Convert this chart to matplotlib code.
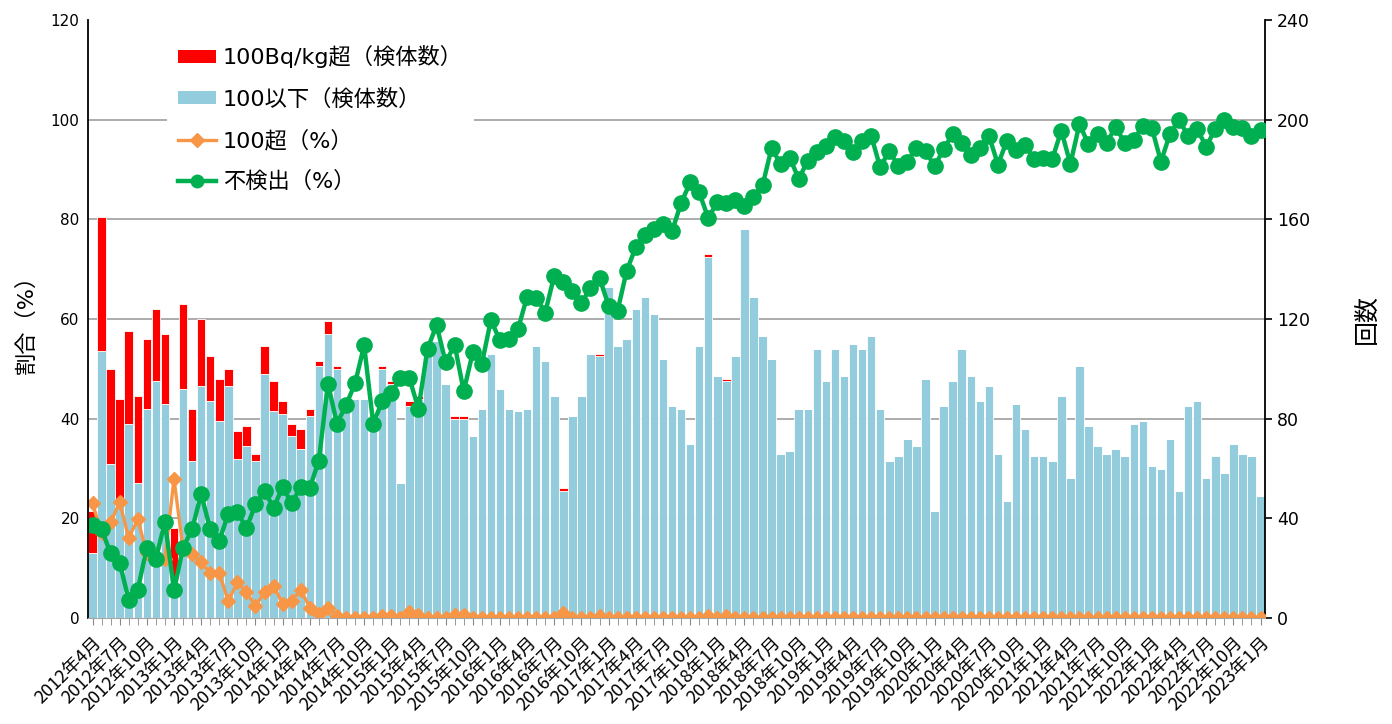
import matplotlib.pyplot as plt
import numpy as np
from matplotlib.patches import Patch
from matplotlib.lines import Line2D

# Verdana-like latin, CJK fallback
plt.rcParams['font.family'] = ['DejaVu Sans', 'Noto Sans CJK JP']

# months 2012年4月 .. 2023年1月
months = [f'{2012 + (i + 3) // 12}年{(i + 3) % 12 + 1}月' for i in range(130)]

# 検体数 (right axis)
below100 = [26, 107, 62, 47, 78, 54, 84, 95, 86, 15, 92, 63, 93, 87, 79, 93, 64, 69, 63, 98,
            83, 82, 73, 68, 81, 101, 114, 100, 84, 88, 88, 76, 100, 94, 54, 85, 88, 107, 111, 94,
            80, 80, 73, 84, 106, 92, 84, 83, 84, 109, 103, 89, 51, 81, 89, 106, 105, 133, 109, 112,
            124, 129, 122, 104, 85, 84, 70, 109, 145, 97, 95, 105, 156, 129, 113, 104, 66, 67, 84, 84,
            108, 95, 108, 97, 110, 108, 113, 84, 63, 65, 72, 69, 96, 43, 85, 95, 108, 97, 87, 93,
            66, 47, 86, 76, 65, 65, 63, 89, 56, 101, 77, 69, 66, 68, 65, 78, 79, 61, 60, 72,
            51, 85, 87, 56, 65, 58, 70, 66, 65, 49]
over100 = [17, 54, 38, 41, 37, 35, 28, 29, 28, 21, 34, 21, 27, 18, 17, 7, 11, 8, 3, 11,
           12, 5, 5, 8, 3, 2, 5, 1, 0, 0, 0, 0, 1, 1, 0, 2, 1, 0, 0, 0,
           1, 1, 0, 0, 0, 0, 0, 0, 0, 0, 0, 0, 1, 0, 0, 0, 1, 0, 0, 0,
           0, 0, 0, 0, 0, 0, 0, 0, 1, 0, 1, 0, 0, 0, 0, 0, 0, 0, 0, 0,
           0, 0, 0, 0, 0, 0, 0, 0, 0, 0, 0, 0, 0, 0, 0, 0, 0, 0, 0, 0,
           0, 0, 0, 0, 0, 0, 0, 0, 0, 0, 0, 0, 0, 0, 0, 0, 0, 0, 0, 0,
           0, 0, 0, 0, 0, 0, 0, 0, 0, 0]

# 割合 (left axis, %)
over_pct = [23.0, 17.0, 19.2, 23.2, 16.1, 19.8, 13.0, 12.5, 11.9, 27.9, 13.9, 12.9, 11.2, 9.0, 9.0, 3.4, 7.2, 5.2, 2.4, 5.2,
            6.5, 2.8, 3.5, 5.6, 2.1, 0.8, 2.1, 0.5, 0, 0, 0, 0, 0.5, 0.4, 0, 1.2, 0.6, 0, 0, 0,
            0.6, 0.6, 0, 0, 0, 0, 0, 0, 0, 0, 0, 0, 1.0, 0, 0, 0, 0.5, 0, 0, 0,
            0, 0, 0, 0, 0, 0, 0, 0, 0.4, 0, 0.5, 0, 0, 0, 0, 0, 0, 0, 0, 0,
            0, 0, 0, 0, 0, 0, 0, 0, 0, 0, 0, 0, 0, 0, 0, 0, 0, 0, 0, 0,
            0, 0, 0, 0, 0, 0, 0, 0, 0, 0, 0, 0, 0, 0, 0, 0, 0, 0, 0, 0,
            0, 0, 0, 0, 0, 0, 0, 0, 0, 0]
nd_pct = [18.7, 17.8, 13.0, 11.1, 3.6, 5.7, 14.1, 11.9, 19.3, 5.6, 14.1, 17.8, 24.9, 17.8, 15.5, 20.9, 21.3, 18.0, 22.8, 25.5,
          22.1, 26.3, 23.0, 26.3, 26.1, 31.6, 47.0, 39.0, 42.7, 47.1, 54.7, 39.0, 43.5, 45.1, 48.1, 48.1, 42.0, 54.0, 58.8, 51.3,
          54.8, 45.5, 53.3, 51.0, 59.8, 55.7, 56.0, 58.0, 64.5, 64.3, 61.3, 68.7, 67.4, 65.6, 63.2, 66.2, 68.2, 62.7, 61.7, 69.7,
          74.4, 76.9, 78.1, 79.1, 77.6, 83.2, 87.4, 85.4, 80.3, 83.4, 83.3, 83.9, 82.7, 84.5, 86.8, 94.3, 91.1, 92.4, 88.1, 91.8,
          93.6, 94.8, 96.5, 95.8, 93.6, 95.7, 96.8, 90.4, 93.8, 90.6, 91.6, 94.4, 93.8, 90.6, 94.1, 97.1, 95.4, 93.0, 94.4, 96.8,
          91.0, 95.8, 93.9, 94.9, 92.1, 92.4, 92.1, 97.8, 91.1, 99.1, 95.1, 97.1, 95.4, 98.5, 95.4, 95.9, 98.8, 98.3, 91.6, 97.1,
          100.0, 96.7, 98.1, 94.6, 98.1, 100.0, 98.5, 98.3, 96.8, 97.9]

x = np.arange(len(months))

fig = plt.figure(figsize=(13.92, 7.24), dpi=100)
ax = fig.add_axes([0.0632, 0.1464, 0.8456, 0.826])
ax2 = ax.twinx()

# bars on the count axis, drawn underneath
ax2.bar(x, below100, width=0.94, color='#93CDDD', edgecolor='white', linewidth=0.6)
ax2.bar(x, over100, bottom=below100, width=0.94, color='#FF0000', edgecolor='white', linewidth=0.6)
ax2.set_ylim(0, 240)
ax2.set_yticks(np.arange(0, 241, 40))
ax2.yaxis.grid(True, color='#A6A6A6', linewidth=1.3)
ax2.get_ygridlines()[-1].set_visible(False)
ax2.set_axisbelow(True)
ax2.tick_params(axis='y', labelsize=12.5, direction='out', length=5, width=1.2)
ax2.set_ylabel('回数', fontsize=18, labelpad=32)

# percentage lines on top
ax.plot(x, over_pct, color='#F79646', linewidth=2.4, marker='D', markersize=7.5)
ax.plot(x, nd_pct, color='#00B050', linewidth=3.2, marker='o', markersize=11)
ax.set_ylim(0, 120)
ax.set_yticks(np.arange(0, 121, 20))
ax.set_xlim(-0.5, len(months) - 0.5)
ax.set_zorder(ax2.get_zorder() + 1)
ax.patch.set_visible(False)
ax.tick_params(axis='y', labelsize=11, length=0, pad=6)
ax.set_ylabel('割合（%）', fontsize=16, labelpad=10)

ax.set_xticks(x[::3])
ax.set_xticklabels(months[::3], rotation=45, ha='right', rotation_mode='anchor', fontsize=13,
                   family=['Noto Sans CJK JP', 'DejaVu Sans'])
ax.set_xticks(x, minor=True)
ax.tick_params(axis='x', which='both', direction='out', length=5, color='#888888', pad=6)

for a in (ax, ax2):
    a.spines['top'].set_visible(False)
ax.spines['right'].set_visible(False)
ax2.spines['left'].set_visible(False)
ax2.spines['bottom'].set_visible(False)
ax.spines['left'].set_linewidth(1.3)
ax2.spines['right'].set_linewidth(1.3)
ax.spines['bottom'].set_color('#A6A6A6')

handles = [Patch(facecolor='#FF0000'),
           Patch(facecolor='#93CDDD'),
           Line2D([], [], color='#F79646', linewidth=2.4, marker='D', markersize=7),
           Line2D([], [], color='#00B050', linewidth=3.2, marker='o', markersize=9)]
labels = ['100Bq/kg超（検体数）', '100以下（検体数）', '100超（%）', '不検出（%）']
ax.legend(handles, labels, loc='upper left', bbox_to_anchor=(0.058, 0.995), fontsize=16,
          frameon=True, facecolor='white', edgecolor='none', framealpha=1, fancybox=False,
          labelspacing=0.9, handlelength=1.7, handleheight=0.55, handletextpad=0.3, borderpad=0.5)

fig.savefig('out.png', dpi=100)
